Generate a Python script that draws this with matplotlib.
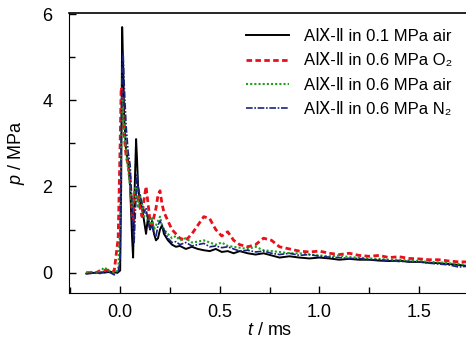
import matplotlib
matplotlib.use('Agg')
import matplotlib.pyplot as plt
from matplotlib.ticker import MultipleLocator

plt.rcParams['font.family'] = ['Liberation Sans Narrow', 'Liberation Sans', 'DejaVu Sans']
plt.rcParams['mathtext.fontset'] = 'custom'
plt.rcParams['mathtext.rm'] = 'Liberation Sans'
plt.rcParams['mathtext.it'] = 'Liberation Sans:italic'

# ── data ─────────────────────────────────────────────────────────────────────
t_ms = [-0.17, -0.15, -0.12, -0.10, -0.08, -0.05, -0.03, -0.01,
        0.0, 0.005, 0.01, 0.015, 0.02, 0.03, 0.04, 0.05, 0.06, 0.065, 0.07,
        0.08, 0.085, 0.09, 0.10, 0.11, 0.12, 0.13, 0.14, 0.15, 0.16, 0.17,
        0.18, 0.19, 0.20, 0.21, 0.22, 0.24, 0.26, 0.28, 0.30, 0.33, 0.36,
        0.39, 0.42, 0.45, 0.48, 0.51, 0.54, 0.57, 0.60, 0.64, 0.68, 0.72,
        0.76, 0.80, 0.85, 0.90, 0.95, 1.00, 1.05, 1.10, 1.15, 1.20, 1.25,
        1.30, 1.35, 1.40, 1.45, 1.50, 1.55, 1.60, 1.65, 1.70, 1.75]

p_air_01 = [-0.02, 0.0, -0.01, 0.01, 0.0, 0.02, 0.0, 0.01,
            0.05, 2.0, 5.7, 4.8, 3.6, 2.8, 2.6, 2.0, 0.8, 0.35, 1.5,
            3.1, 2.6, 2.0, 1.6, 1.5, 1.2, 0.9, 1.3, 1.0, 1.2, 0.9,
            0.75, 0.8, 1.0, 1.1, 0.9, 0.75, 0.65, 0.6, 0.62, 0.55, 0.6,
            0.55, 0.52, 0.5, 0.55, 0.48, 0.5, 0.45, 0.5, 0.45, 0.42, 0.45,
            0.4, 0.35, 0.38, 0.35, 0.33, 0.35, 0.33, 0.3, 0.32, 0.3, 0.3,
            0.28, 0.27, 0.28, 0.25, 0.25, 0.23, 0.22, 0.2, 0.18, 0.15]

p_o2_06 = [0.0, 0.0, 0.0, 0.05, 0.05, 0.06, 0.03, 0.8,
           3.0, 4.3, 4.2, 3.6, 3.2, 2.7, 2.5, 2.2, 1.4, 1.2, 1.8,
           1.9, 2.0, 1.7, 1.5, 1.3, 1.7, 2.0, 1.6, 1.2, 1.1, 1.3,
           1.5, 1.8, 1.9, 1.6, 1.4, 1.2, 1.0, 0.9, 0.8, 0.75, 0.9,
           1.1, 1.3, 1.25, 1.0, 0.85, 0.95, 0.75, 0.65, 0.6, 0.65, 0.8,
           0.75, 0.6, 0.55, 0.5, 0.48, 0.5, 0.45, 0.42, 0.45, 0.4, 0.38,
           0.4, 0.35, 0.37, 0.33, 0.32, 0.3, 0.3, 0.27, 0.25, 0.25]

p_air_06 = [0.0, 0.02, 0.0, 0.03, 0.12, 0.03, 0.0, 0.05,
            1.0, 3.0, 4.0, 3.8, 3.3, 2.8, 2.4, 2.0, 1.5, 1.6, 1.9,
            2.0, 1.7, 1.5, 1.8, 1.6, 1.3, 1.4, 1.2, 1.1, 1.3, 1.0,
            1.1, 1.2, 1.3, 1.1, 1.0, 0.9, 0.8, 0.85, 0.75, 0.8, 0.7,
            0.72, 0.75, 0.7, 0.65, 0.7, 0.62, 0.6, 0.58, 0.55, 0.6, 0.52,
            0.5, 0.48, 0.45, 0.45, 0.42, 0.4, 0.38, 0.4, 0.36, 0.35, 0.33,
            0.32, 0.3, 0.3, 0.28, 0.27, 0.25, 0.24, 0.22, 0.2, 0.18]

p_n2_06 = [-0.03, -0.02, 0.0, -0.02, 0.02, 0.0, -0.05, 0.0,
           0.3, 3.0, 4.8, 5.1, 4.4, 3.4, 2.8, 2.5, 1.5, 1.0, 0.7,
           1.8, 2.3, 2.0, 1.8, 1.6, 1.4, 1.5, 1.2, 1.0, 1.1, 0.9,
           0.85, 1.1, 1.2, 1.1, 1.0, 0.8, 0.7, 0.72, 0.65, 0.7, 0.62,
           0.65, 0.68, 0.6, 0.62, 0.58, 0.6, 0.55, 0.5, 0.52, 0.48, 0.5,
           0.45, 0.42, 0.45, 0.4, 0.42, 0.38, 0.36, 0.35, 0.33, 0.33, 0.3,
           0.3, 0.28, 0.26, 0.26, 0.25, 0.22, 0.2, 0.18, 0.13, 0.15]

labels = ['AⅨ-Ⅱ in 0.1 MPa air', 'AⅨ-Ⅱ in 0.6 MPa O₂',
          'AⅨ-Ⅱ in 0.6 MPa air', 'AⅨ-Ⅱ in 0.6 MPa N₂']

# ── plot ─────────────────────────────────────────────────────────────────────
fig = plt.figure(figsize=(4.66, 3.39), dpi=100)
ax = fig.add_axes([0.148, 0.136, 0.86, 0.826])

ax.plot(t_ms, p_air_01, color='black', lw=1.4, ls='-', label=labels[0])
ax.plot(t_ms, p_o2_06, color='#e8101a', lw=2.0, ls=(0, (2, 1.2)), label=labels[1])
ax.plot(t_ms, p_air_06, color='#1fa01f', lw=1.5, ls=(0, (1, 1)), label=labels[2])
ax.plot(t_ms, p_n2_06, color='#1a237e', lw=1.2, ls=(0, (4, 1, 1, 1)), label=labels[3])

ax.set_xlim(-0.257, 1.755)
ax.set_ylim(-0.47, 6.03)
ax.xaxis.set_major_locator(MultipleLocator(0.5))
ax.xaxis.set_minor_locator(MultipleLocator(0.25))
ax.yaxis.set_major_locator(MultipleLocator(2))
ax.yaxis.set_minor_locator(MultipleLocator(1))
ax.tick_params(which='both', direction='in', labelsize=13, width=1)
ax.tick_params(which='major', length=5)
ax.tick_params(which='minor', length=4)
ax.tick_params(axis='y', pad=12)
ax.tick_params(axis='x', pad=8)
ax.xaxis.set_major_formatter(plt.FuncFormatter(lambda v, p: f'{v:.1f}'))
ax.spines['right'].set_visible(False)
ax.spines['top'].set_visible(True)
ax.spines['top'].set_linewidth(1.2)
ax.spines['top'].set_zorder(5)

ax.set_xlabel('$t$ / ms', fontsize=13, labelpad=1)
ax.set_ylabel('$p$ / MPa', fontsize=13, labelpad=11)

ax.legend(loc='upper right', bbox_to_anchor=(0.995, 0.995), frameon=False,
          fontsize=12, handlelength=2.6, labelspacing=0.55, handletextpad=0.9)

plt.savefig('out.png', dpi=100)
